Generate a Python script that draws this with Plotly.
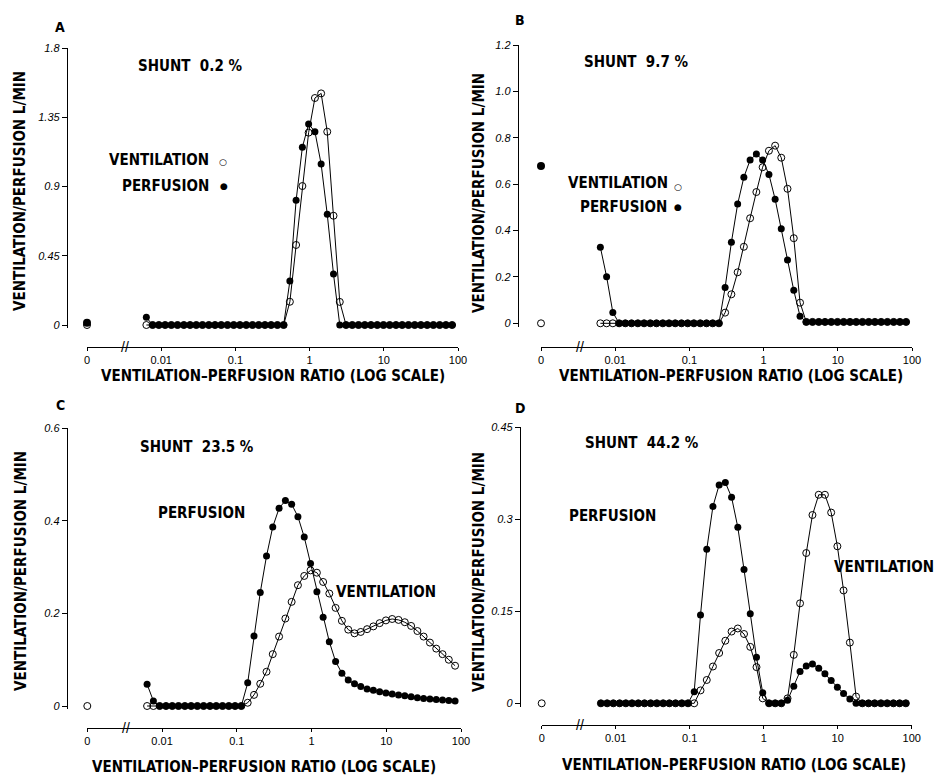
import plotly.graph_objects as go

# ---------------- data ----------------
# ventilation-perfusion ratio of each compartment (log-spaced grid)
vaq = [0.00631, 0.00766, 0.00929, 0.0113, 0.0137, 0.0166, 0.0202, 0.0245, 0.0297, 0.0360,
       0.0438, 0.0531, 0.0644, 0.0782, 0.0949, 0.115, 0.140, 0.170, 0.206, 0.250,
       0.303, 0.368, 0.447, 0.542, 0.658, 0.799, 0.970, 1.18, 1.43, 1.73,
       2.10, 2.55, 3.10, 3.76, 4.56, 5.54, 6.72, 8.16, 9.90, 12.0,
       14.6, 17.7, 21.5, 26.1, 31.6, 38.4, 46.6, 56.6, 68.7, 83.3]

# "0" compartment (shunt), drawn left of the axis break
SHUNT_X = 0.001

vent_A = [0]*23 + [0.151, 0.52, 0.903, 1.25, 1.475, 1.505, 1.256, 0.71, 0.15] + [0]*18
perf_A = [0.05] + [0]*22 + [0.286, 0.81, 1.155, 1.306, 1.256, 1.046, 0.719, 0.331] + [0]*19
shunt_vent_A = 0.0
shunt_perf_A = 0.014

vent_B = [0]*20 + [0.046, 0.125, 0.22, 0.33, 0.453, 0.566, 0.673, 0.744, 0.766, 0.714,
                   0.58, 0.367, 0.089] + [0.006]*17
perf_B = [0.328, 0.201, 0.047] + [0]*17 + [0.154, 0.349, 0.514, 0.63, 0.704, 0.730, 0.704,
                                           0.642, 0.535, 0.408, 0.273, 0.142, 0.030] + [0.006]*17
shunt_vent_B = 0.0
shunt_perf_B = 0.678

vent_C = [0]*16 + [0.007, 0.024, 0.048, 0.074, 0.112, 0.150, 0.189, 0.225, 0.261, 0.281,
                   0.293, 0.288, 0.268, 0.243, 0.212, 0.184, 0.165, 0.157, 0.160, 0.166,
                   0.172, 0.179, 0.185, 0.188, 0.186, 0.181, 0.173, 0.162, 0.150, 0.137,
                   0.124, 0.112, 0.100, 0.087]
perf_C = [0.047, 0.011] + [0]*14 + [0.050, 0.151, 0.245, 0.324, 0.387, 0.427, 0.444, 0.436,
                                    0.409, 0.365, 0.308, 0.247, 0.192, 0.139, 0.096, 0.071,
                                    0.056, 0.048, 0.042, 0.037, 0.034, 0.031, 0.028, 0.026,
                                    0.024, 0.022, 0.020, 0.018, 0.016, 0.015, 0.014, 0.013,
                                    0.012, 0.011]
shunt_vent_C = 0.0

vent_D = [0]*16 + [0.021, 0.038, 0.060, 0.082, 0.102, 0.117, 0.122, 0.113, 0.092, 0.059,
                   0.008, 0, 0, 0, 0.008, 0.079, 0.163, 0.245, 0.307, 0.340, 0.340, 0.311,
                   0.256, 0.184, 0.099, 0.011] + [0]*8
perf_D = [0]*15 + [0.019, 0.144, 0.251, 0.321, 0.356, 0.360, 0.336, 0.287, 0.218, 0.146,
                   0.075, 0.017, 0, 0, 0, 0.005, 0.028, 0.052, 0.061, 0.064, 0.057, 0.048,
                   0.037, 0.026, 0.016, 0.007] + [0]*9
shunt_vent_D = 0.0

x_tickvals = [SHUNT_X, 0.01, 0.1, 1, 10, 100]
x_ticktext = ["0", "0.01", "0.1", "1", "10", "100"]

y_ticks_A = [0, 0.45, 0.9, 1.35, 1.8]
y_text_A = ["0", "0.45", "0.9", "1.35", "1.8"]
y_ticks_B = [0, 0.2, 0.4, 0.6, 0.8, 1.0, 1.2]
y_text_B = ["0", "0.2", "0.4", "0.6", "0.8", "1.0", "1.2"]
y_ticks_C = [0, 0.2, 0.4, 0.6]
y_text_C = ["0", "0.2", "0.4", "0.6"]
y_ticks_D = [0, 0.15, 0.3, 0.45]
y_text_D = ["0", "0.15", "0.3", "0.45"]

shunt_labels = ["SHUNT  0.2 %", "SHUNT  9.7 %", "SHUNT  23.5 %", "SHUNT  44.2 %"]
x_title = "VENTILATION\u2013PERFUSION RATIO (LOG SCALE)"
y_title = "VENTILATION/PERFUSION L/MIN"

# ---------------- layout helpers ----------------
W, H = 939, 777
def px(x):
    return x / W
def py(y):
    return 1 - y / H

BOLD = "Liberation Sans Narrow, DejaVu Sans Condensed, Arial Narrow, Liberation Sans, sans-serif"
TICK = "Liberation Sans, Arial, sans-serif"
FS = 15  # bold label size

panels = [
    dict(letter="A", vent=vent_A, perf=perf_A, sv=shunt_vent_A, sp=shunt_perf_A,
         yt=y_ticks_A, ytx=y_text_A, yaxis_x=67, x0=87, x100=458, y0=325, ytop=48, xaxis_y=347,
         letter_xy=(60, 27), shunt_xy=(190, 66), xtitle_xy=(273, 376), ytitle_xy=(20, 191),
         brk=125),
    dict(letter="B", vent=vent_B, perf=perf_B, sv=shunt_vent_B, sp=shunt_perf_B,
         yt=y_ticks_B, ytx=y_text_B, yaxis_x=518, x0=541, x100=912, y0=323.3, ytop=45, xaxis_y=347,
         letter_xy=(520, 20), shunt_xy=(636, 62), xtitle_xy=(731, 376), ytitle_xy=(479, 193),
         brk=580),
    dict(letter="C", vent=vent_C, perf=perf_C, sv=shunt_vent_C, sp=None,
         yt=y_ticks_C, ytx=y_text_C, yaxis_x=67, x0=87.3, x100=461, y0=706, ytop=428.3, xaxis_y=728,
         letter_xy=(60, 405), shunt_xy=(197, 447), xtitle_xy=(264, 767), ytitle_xy=(21, 571),
         brk=126),
    dict(letter="D", vent=vent_D, perf=perf_D, sv=shunt_vent_D, sp=None,
         yt=y_ticks_D, ytx=y_text_D, yaxis_x=520, x0=541.7, x100=911.7, y0=703.3, ytop=427.3, xaxis_y=725,
         letter_xy=(520, 408), shunt_xy=(642, 443), xtitle_xy=(734, 765), ytitle_xy=(479, 572),
         brk=580),
]

fig = go.Figure()
annotations = []
layout_axes = {}

def ann(text, xy, size=FS, **kw):
    d = dict(text=text, x=px(xy[0]), y=py(xy[1]), xref="paper", yref="paper",
             showarrow=False, font=dict(family=BOLD, size=size, color="black"),
             xanchor="center", yanchor="middle")
    d.update(kw)
    annotations.append(d)

for k, p in enumerate(panels):
    s = "" if k == 0 else str(k + 1)
    xa, ya = "x" + s, "y" + s
    ymax = p["yt"][-1]
    pad = 0.012
    ymin = -pad * ymax
    ybot_px = p["y0"] + pad * (p["y0"] - p["ytop"])

    line = dict(color="black", width=1)
    fig.add_trace(go.Scatter(x=vaq, y=p["vent"], xaxis=xa, yaxis=ya, mode="lines+markers",
                             line=line, cliponaxis=False, showlegend=False,
                             marker=dict(symbol="circle-open", size=7, color="black",
                                         line=dict(width=1, color="black"))))
    fig.add_trace(go.Scatter(x=vaq, y=p["perf"], xaxis=xa, yaxis=ya, mode="lines+markers",
                             line=line, cliponaxis=False, showlegend=False,
                             marker=dict(symbol="circle", size=7, color="black")))
    fig.add_trace(go.Scatter(x=[SHUNT_X], y=[p["sv"]], xaxis=xa, yaxis=ya, mode="markers",
                             cliponaxis=False, showlegend=False,
                             marker=dict(symbol="circle-open", size=7, color="black",
                                         line=dict(width=1, color="black"))))
    if p["sp"] is not None:
        fig.add_trace(go.Scatter(x=[SHUNT_X], y=[p["sp"]], xaxis=xa, yaxis=ya, mode="markers",
                                 cliponaxis=False, showlegend=False,
                                 marker=dict(symbol="circle", size=8, color="black")))

    layout_axes["xaxis" + s] = dict(
        type="log", range=[-3, 2], domain=[px(p["x0"]), px(p["x100"])],
        anchor="free", position=py(p["xaxis_y"]),
        showline=True, linecolor="black", linewidth=1.3,
        ticks="outside", ticklen=3, tickcolor="black", tickwidth=1.3,
        tickvals=x_tickvals, ticktext=x_ticktext,
        tickfont=dict(family=TICK, size=11, color="black"),
        showgrid=False, zeroline=False, fixedrange=True)
    layout_axes["yaxis" + s] = dict(
        range=[ymin, ymax], domain=[py(ybot_px), py(p["ytop"])],
        anchor="free", position=px(p["yaxis_x"]),
        showline=True, linecolor="black", linewidth=1.3,
        ticks="outside", ticklen=5, tickcolor="black", tickwidth=1.3,
        tickvals=p["yt"], ticktext=p["ytx"],
        tickfont=dict(family=TICK, size=11, color="black", style="italic"),
        showgrid=False, zeroline=False, fixedrange=True)

    ann("<b>%s</b>" % p["letter"], p["letter_xy"], size=14)
    ann("<b>%s</b>" % shunt_labels[k], p["shunt_xy"])
    ann("<b>%s</b>" % x_title, p["xtitle_xy"])
    ann("<b>%s</b>" % y_title, p["ytitle_xy"], textangle=-90)
    ann("//", (p["brk"], p["xaxis_y"]), font=dict(family=TICK, size=14, color="black"))

# series labels
def lab(text, x_right, y, size=FS):
    annotations.append(dict(text="<b>%s</b>" % text, x=px(x_right), y=py(y), xref="paper",
                            yref="paper", showarrow=False, xanchor="right", yanchor="middle",
                            font=dict(family=BOLD, size=size, color="black")))
def sym(ch, x, y, size):
    annotations.append(dict(text=ch, x=px(x), y=py(y), xref="paper", yref="paper",
                            showarrow=False, xanchor="center", yanchor="middle",
                            font=dict(family="DejaVu Sans", size=size, color="black")))

# Panel A legend
lab("VENTILATION", 211, 160)
sym("\u25cb", 223, 162, 9)
lab("PERFUSION", 211, 186)
sym("\u25cf", 224, 186, 9)
# Panel B legend
lab("VENTILATION", 670, 183)
sym("\u25cb", 678, 187, 9)
lab("PERFUSION", 669, 207)
sym("\u25cf", 678, 207, 9)
# Panel C labels
lab("PERFUSION", 247, 513)
lab("VENTILATION", 438, 592)
# Panel D labels
lab("PERFUSION", 658, 516)
lab("VENTILATION", 936, 567)

fig.update_layout(
    width=W, height=H, margin=dict(l=0, r=0, t=0, b=0, autoexpand=False),
    paper_bgcolor="white", plot_bgcolor="white",
    annotations=annotations, showlegend=False,
    **layout_axes)

fig.write_html("out.html", include_plotlyjs=True, config={"displayModeBar": False},
               post_script="document.body.style.margin='0';document.body.style.overflow='hidden';")
